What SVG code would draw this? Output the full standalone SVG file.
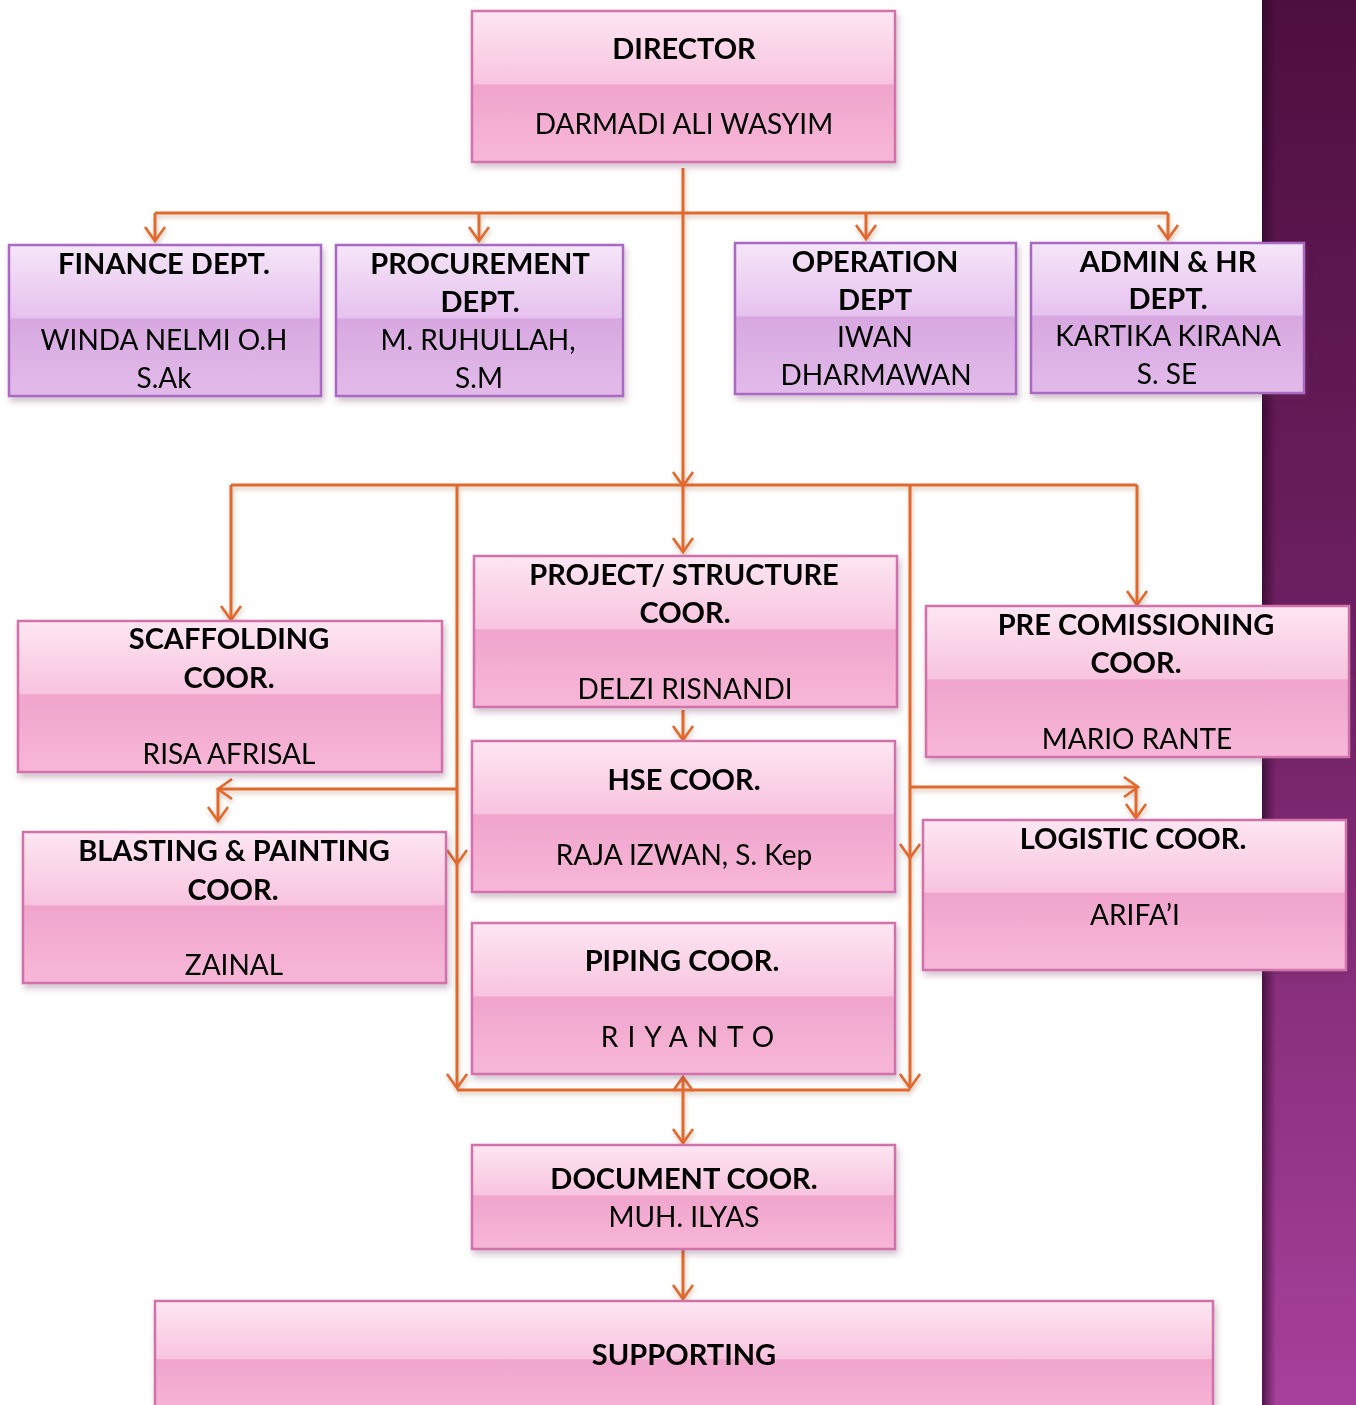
<svg xmlns="http://www.w3.org/2000/svg" width="1356" height="1405" viewBox="0 0 1356 1405">
<defs>
<linearGradient id="pink" x1="0" y1="0" x2="0" y2="1">
<stop offset="0" stop-color="#fde6f2"/>
<stop offset="0.48" stop-color="#f8c4df"/>
<stop offset="0.49" stop-color="#f0a5cc"/>
<stop offset="1" stop-color="#f7b7d8"/>
</linearGradient>
<linearGradient id="lav" x1="0" y1="0" x2="0" y2="1">
<stop offset="0" stop-color="#f5e6f8"/>
<stop offset="0.48" stop-color="#e6c2ee"/>
<stop offset="0.49" stop-color="#d7a8e0"/>
<stop offset="1" stop-color="#e2bbea"/>
</linearGradient>
<linearGradient id="strip" x1="0" y1="0" x2="0" y2="1">
<stop offset="0" stop-color="#4d0f3e"/>
<stop offset="0.45" stop-color="#6e2062"/>
<stop offset="1" stop-color="#a7409b"/>
</linearGradient>
<linearGradient id="stripEdge" x1="0" y1="0" x2="1" y2="0">
<stop offset="0" stop-color="#2a0626" stop-opacity="0.7"/>
<stop offset="1" stop-color="#2a0626" stop-opacity="0"/>
</linearGradient>
<filter id="sh" x="-5%" y="-10%" width="112%" height="130%">
<feDropShadow dx="2" dy="4" stdDeviation="3" flood-color="#603050" flood-opacity="0.3"/>
</filter>
<filter id="lsh" x="-10%" y="-10%" width="120%" height="120%">
<feDropShadow dx="1" dy="3" stdDeviation="2" flood-color="#804020" flood-opacity="0.3"/>
</filter>
<marker id="ar" viewBox="0 0 18 24" refX="16" refY="12" markerWidth="18" markerHeight="24" markerUnits="userSpaceOnUse" orient="auto">
<path d="M2,2 L16,12 L2,22" fill="none" stroke="#e2692f" stroke-width="2.6"/>
</marker>
<style>
.pk{fill:url(#pink);stroke:#d272aa;stroke-width:2.5}
.lv{fill:url(#lav);stroke:#aa6ac2;stroke-width:2.5}
.t{font-family:Lato,"DejaVu Sans",sans-serif;font-weight:bold;font-size:29px;fill:#000;text-anchor:middle}
.n{font-family:Lato,"DejaVu Sans",sans-serif;font-size:28px;fill:#000;text-anchor:middle}
.c{fill:none;stroke:#e2692f;stroke-width:3}
.ca{fill:none;stroke:#e2692f;stroke-width:3;marker-end:url(#ar)}
</style>
</defs>
<rect x="0" y="0" width="1356" height="1405" fill="#ffffff"/>
<rect x="1262" y="0" width="94" height="1405" fill="url(#strip)"/>
<rect x="1262" y="0" width="14" height="1405" fill="url(#stripEdge)"/>

<g id="connectors" filter="url(#lsh)">
<path class="ca" d="M683,168 V486"/>
<path class="c" d="M155,213 H1168"/>
<path class="ca" d="M155,213 V241"/>
<path class="ca" d="M479,213 V241"/>
<path class="ca" d="M866,213 V239"/>
<path class="ca" d="M1168,213 V239"/>
<path class="c" d="M231,485 H1137"/>
<path class="ca" d="M231,485 V620"/>
<path class="ca" d="M1137,485 V605"/>
<path class="ca" d="M683,486 V552"/>
<path class="ca" d="M457,485 V864"/>
<path class="ca" d="M457,864 V1088"/>
<path class="ca" d="M910,485 V858"/>
<path class="ca" d="M910,858 V1088"/>
<path class="ca" d="M683,710 V740"/>
<path class="ca" d="M457,789 H218"/>
<path class="ca" d="M218,788 V821"/>
<path class="ca" d="M910,787 H1138"/>
<path class="ca" d="M1136,787 V818"/>
<path class="c" d="M457,1090 H910"/>
<path class="ca" d="M683,1090 V1077"/>
<path class="ca" d="M683,1090 V1143"/>
<path class="ca" d="M683,1250 V1299"/>
</g>

<g id="director" filter="url(#sh)">
<rect class="pk" x="472" y="11" width="423" height="151"/>
<text class="t" x="684" y="59">DIRECTOR</text>
<text class="n" x="684" y="134">DARMADI ALI WASYIM</text>
</g>
<g id="finance" filter="url(#sh)">
<rect class="lv" x="9" y="245" width="312" height="151"/>
<text class="t" x="164" y="274">FINANCE DEPT.</text>
<text class="n" x="164" y="350">WINDA NELMI O.H</text>
<text class="n" x="164" y="388">S.Ak</text>
</g>
<g id="procurement" filter="url(#sh)">
<rect class="lv" x="336" y="245" width="287" height="151"/>
<text class="t" x="480" y="274">PROCUREMENT</text>
<text class="t" x="480" y="312">DEPT.</text>
<text class="n" x="478" y="350">M. RUHULLAH,</text>
<text class="n" x="479" y="388">S.M</text>
</g>
<g id="operation" filter="url(#sh)">
<rect class="lv" x="735" y="243" width="281" height="151"/>
<text class="t" x="875" y="272">OPERATION</text>
<text class="t" x="875" y="310">DEPT</text>
<text class="n" x="875" y="347">IWAN</text>
<text class="n" x="876" y="385">DHARMAWAN</text>
</g>
<g id="admin" filter="url(#sh)">
<rect class="lv" x="1031" y="243" width="273" height="150"/>
<text class="t" x="1168" y="272">ADMIN &amp; HR</text>
<text class="t" x="1168" y="309">DEPT.</text>
<text class="n" x="1168" y="346">KARTIKA KIRANA</text>
<text class="n" x="1167" y="384">S. SE</text>
</g>
<g id="scaffolding" filter="url(#sh)">
<rect class="pk" x="18" y="621" width="424" height="151"/>
<text class="t" x="229" y="649">SCAFFOLDING</text>
<text class="t" x="229" y="688">COOR.</text>
<text class="n" x="229" y="764">RISA AFRISAL</text>
</g>
<g id="project" filter="url(#sh)">
<rect class="pk" x="474" y="556" width="423" height="151"/>
<text class="t" x="684" y="585">PROJECT/ STRUCTURE</text>
<text class="t" x="685" y="623">COOR.</text>
<text class="n" x="685" y="699">DELZI RISNANDI</text>
</g>
<g id="precomissioning" filter="url(#sh)">
<rect class="pk" x="926" y="606" width="423" height="151"/>
<text class="t" x="1136" y="635">PRE COMISSIONING</text>
<text class="t" x="1136" y="673">COOR.</text>
<text class="n" x="1137" y="749">MARIO RANTE</text>
</g>
<g id="hse" filter="url(#sh)">
<rect class="pk" x="472" y="741" width="423" height="151"/>
<text class="t" x="684" y="790">HSE COOR.</text>
<text class="n" x="684" y="865">RAJA IZWAN, S. Kep</text>
</g>
<g id="logistic" filter="url(#sh)">
<rect class="pk" x="923" y="820" width="423" height="150"/>
<text class="t" x="1133" y="849">LOGISTIC COOR.</text>
<text class="n" x="1135" y="925">ARIFA’I</text>
</g>
<g id="blasting" filter="url(#sh)">
<rect class="pk" x="23" y="832" width="423" height="151"/>
<text class="t" x="234" y="861">BLASTING &amp; PAINTING</text>
<text class="t" x="233" y="900">COOR.</text>
<text class="n" x="234" y="975">ZAINAL</text>
</g>
<g id="piping" filter="url(#sh)">
<rect class="pk" x="472" y="923" width="423" height="151"/>
<text class="t" x="682" y="971">PIPING COOR.</text>
<text class="n" x="692" y="1047" letter-spacing="9">RIYANTO</text>
</g>
<g id="document" filter="url(#sh)">
<rect class="pk" x="472" y="1145" width="423" height="104"/>
<text class="t" x="684" y="1189">DOCUMENT COOR.</text>
<text class="n" x="684" y="1227">MUH. ILYAS</text>
</g>
<g id="supporting" filter="url(#sh)">
<rect class="pk" x="155" y="1301" width="1058" height="120"/>
<text class="t" x="684" y="1365">SUPPORTING</text>
</g>
</svg>
